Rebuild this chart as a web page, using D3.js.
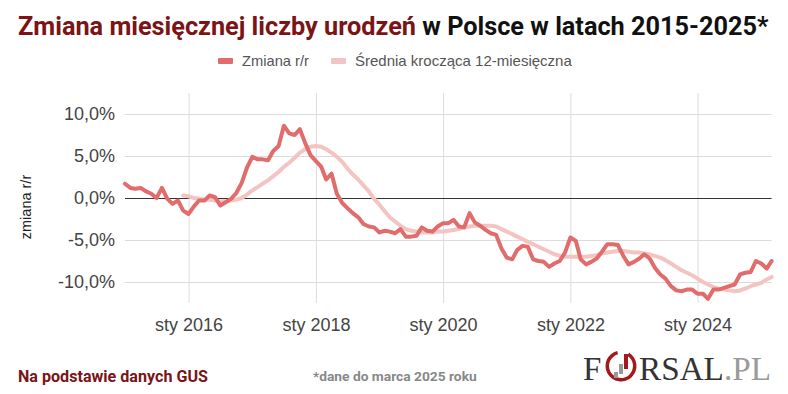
<!DOCTYPE html>
<html>
<head>
<meta charset="utf-8">
<script src="https://cdn.jsdelivr.net/npm/d3@7"></script>
<style>
  html, body { margin: 0; padding: 0; background: #fff; }
  svg { display: block; font-family: Roboto, "Noto Sans", sans-serif; }
</style>
</head>
<body>
<svg id="chart" width="788" height="394"></svg>
<script>
// months Jan 2015 .. Mar 2025
const startMonth = new Date(2015, 0, 1);
const endMonth = new Date(2025, 2, 1);
const months = d3.timeMonth.range(startMonth, d3.timeMonth.offset(endMonth, 1));

// Zmiana r/r (%), monthly from Jan 2015
const zmiana = [
  1.7, 1.2, 1.1, 1.2, 0.8, 0.5, 0.0, 1.2, -0.1, -0.7, -0.3, -1.5,
  -1.9, -1.0, -0.3, -0.3, 0.3, 0.1, -0.9, -0.5, -0.1, 0.6, 1.8, 3.6,
  4.9, 4.6, 4.6, 4.5, 5.6, 6.2, 8.6, 7.7, 7.5, 8.2, 6.5, 5.1,
  4.4, 3.7, 2.2, 2.9, 0.5, -0.6, -1.2, -1.8, -2.3, -3.1, -3.4, -3.5,
  -4.1, -3.9, -4.0, -4.2, -3.7, -4.6, -4.6, -4.5, -3.5, -3.9, -4.0, -3.4,
  -3.0, -3.0, -2.6, -3.4, -3.5, -1.8, -2.9, -3.3, -3.8, -4.2, -4.4, -6.0,
  -7.1, -7.3, -6.2, -5.7, -5.8, -7.3, -7.5, -7.6, -8.2, -7.8, -7.5, -6.5,
  -4.7, -5.1, -7.3, -7.9, -7.6, -7.2, -6.4, -5.5, -5.5, -5.6, -6.9, -7.9,
  -7.6, -7.2, -6.7, -7.2, -8.3, -9.1, -9.6, -10.5, -11.0, -11.1, -10.9, -10.9,
  -11.4, -11.4, -12.0, -10.9, -10.9, -10.7, -10.5, -10.3, -9.1, -8.9, -8.8, -7.5,
  -7.8, -8.4, -7.5
];

// Średnia krocząca 12-miesięczna (%), monthly from Dec 2015
const srednia = [
  0.3,
  0.2, 0.0, -0.1, -0.2, -0.2, -0.3, -0.4, -0.4, -0.3, -0.2, 0.0, 0.4,
  0.9, 1.3, 1.7, 2.1, 2.6, 3.1, 3.7, 4.2, 4.8, 5.4, 5.8, 6.1,
  6.2, 6.1, 5.8, 5.4, 4.9, 4.3, 3.5, 2.8, 2.2, 1.5, 0.8, -0.1,
  -0.8, -1.6, -2.3, -2.8, -3.3, -3.7, -3.9, -4.0, -4.1, -4.1, -4.1, -4.0,
  -4.0, -3.9, -3.8, -3.7, -3.5, -3.4, -3.3, -3.3, -3.3, -3.3, -3.4, -3.7,
  -4.0, -4.3, -4.6, -4.9, -5.2, -5.5, -5.8, -6.1, -6.4, -6.7, -6.9, -7.0,
  -7.0, -7.0, -7.0, -7.0, -6.9, -6.8, -6.6, -6.5, -6.4, -6.3, -6.3, -6.4,
  -6.5, -6.5, -6.6, -6.7, -6.9, -7.1, -7.4, -7.8, -8.2, -8.6, -8.9, -9.2,
  -9.6, -10.0, -10.3, -10.6, -10.8, -10.9, -11.0, -11.1, -11.0, -10.8, -10.5, -10.3,
  -10.1, -9.7, -9.4
];
const sredniaStart = new Date(2015, 11, 1);

const yTicks = [-10, -5, 0, 5, 10];
const xTicks = [2016, 2018, 2020, 2022, 2024].map(y => new Date(y, 0, 1));

const seriesNames = ["Zmiana r/r", "Średnia krocząca 12-miesięczna"];
const titleRed = "Zmiana miesięcznej liczby urodzeń";
const titleBlack = " w Polsce w latach 2015-2025*";
const sourceNote = "Na podstawie danych GUS";
const dateNote = "*dane do marca 2025 roku";

const C = {
  red: "#e06c6c",
  pink: "#f3c4c2",
  dark: "#7a1416",
  grid: "#dcdcdc",
  zero: "#333",
  label: "#444"
};
const sans = "'Liberation Sans', Arial, sans-serif";

const svg = d3.select("#chart");
const plot = { left: 125, right: 771.6, top: 93, bottom: 303 };

const x = d3.scaleTime().domain([startMonth, endMonth]).range([plot.left, plot.right]);
const y = d3.scaleLinear().domain([-12.5, 12.5]).range([plot.bottom, plot.top]);

// squeeze text horizontally to a target width (condensed look)
function fitWidth(sel, w) {
  const node = sel.node();
  const len = node.getComputedTextLength();
  const x0 = +sel.attr("x") || 0, y0 = +sel.attr("y") || 0;
  sel.attr("x", 0).attr("y", 0)
    .attr("transform", `translate(${x0},${y0}) scale(${w / len},1)`);
}

// title
const title = svg.append("text")
  .attr("x", 18).attr("y", 35)
  .style("font-size", "26px").style("font-weight", 700);
title.append("tspan").attr("fill", C.dark).text(titleRed);
title.append("tspan").attr("fill", "#111").text(titleBlack);
fitWidth(title, 751);

// legend
const legend = svg.append("g").attr("transform", "translate(0,61)");
const legendItems = [
  { name: seriesNames[0], color: C.red, x: 218, w: 67 },
  { name: seriesNames[1], color: C.pink, x: 331, w: 217 }
];
legendItems.forEach(d => {
  legend.append("rect").attr("x", d.x).attr("y", -3).attr("width", 15).attr("height", 6)
    .attr("rx", 1).attr("fill", d.color);
  const t = legend.append("text").attr("x", d.x + 24).attr("y", 5)
    .attr("fill", "#555").style("font-family", sans).style("font-size", "14px").text(d.name);
  fitWidth(t, d.w);
});

// grid + axes
const yAxis = d3.axisLeft(y).tickValues(yTicks)
  .tickSize(-(plot.right - plot.left))
  .tickFormat(d => d3.format(".1f")(d).replace(".", ",").replace("\u2212", "-") + "%");
const gy = svg.append("g").attr("transform", `translate(${plot.left},0)`).call(yAxis);
gy.select(".domain").remove();
gy.selectAll(".tick line").attr("stroke", d => d === 0 ? C.zero : C.grid).attr("stroke-width", 1);
gy.selectAll(".tick text").attr("x", -10).attr("fill", C.label)
  .style("font-size", "18px").style("font-family", sans);

const xAxis = d3.axisBottom(x).tickValues(xTicks)
  .tickSize(-(plot.bottom - plot.top))
  .tickFormat(d => "sty " + d.getFullYear());
const gx = svg.append("g").attr("transform", `translate(0,${plot.bottom})`).call(xAxis);
gx.select(".domain").remove();
gx.selectAll(".tick line").attr("stroke", C.grid);
gx.selectAll(".tick text").attr("y", 15).attr("fill", C.label)
  .style("font-size", "18px").style("font-family", sans);

// keep zero line above the vertical grid
gy.selectAll(".tick").filter(d => d === 0).raise();
gy.raise();

// y title
svg.append("text")
  .attr("transform", `translate(31,207) rotate(-90)`)
  .attr("text-anchor", "middle").attr("fill", "#222")
  .style("font-family", sans).style("font-size", "14.5px").text("zmiana r/r");

// lines
const line = d3.line().x(d => x(d.date)).y(d => y(d.value));
const redData = zmiana.map((v, i) => ({ date: months[i], value: v }));
const pinkData = srednia.map((v, i) => ({ date: d3.timeMonth.offset(sredniaStart, i), value: v }));

svg.append("path").datum(pinkData).attr("d", line)
  .attr("fill", "none").attr("stroke", C.pink).attr("stroke-width", 4)
  .attr("stroke-linejoin", "round").attr("stroke-linecap", "round");
svg.append("path").datum(redData).attr("d", line)
  .attr("fill", "none").attr("stroke", C.red).attr("stroke-width", 4)
  .attr("stroke-linejoin", "round").attr("stroke-linecap", "round");

// footer
const src = svg.append("text").attr("x", 18).attr("y", 382)
  .attr("fill", C.dark).style("font-size", "16px").style("font-weight", 700).text(sourceNote);
fitWidth(src, 190);
const note = svg.append("text").attr("x", 313).attr("y", 381)
  .attr("fill", "#888").style("font-size", "13px").style("font-weight", 700).text(dateNote);
fitWidth(note, 164);

// FORSAL.PL logo
const logo = svg.append("g");
const serif = "'Liberation Serif', 'DejaVu Serif', serif";
logo.append("text").attr("x", 583).attr("y", 380).attr("fill", "#333")
  .style("font-family", serif).style("font-size", "33px").text("F");
const ring = d3.arc().innerRadius(12).outerRadius(15.5);
logo.append("path").attr("transform", "translate(621,366)")
  .attr("d", ring({ startAngle: 0.55, endAngle: 2 * Math.PI - 0.25 }))
  .attr("fill", "#a3191c");
[[-7, 3, 6, "#999"], [-2, -1, 10, "#999"], [3, -6, 15, "#a3191c"]].forEach(([bx, by, bh, c]) => {
  logo.append("rect").attr("x", 621 + bx).attr("y", 366 + by + (15 - bh) - 6)
    .attr("width", 4).attr("height", bh).attr("fill", c);
});
const brand = logo.append("text").attr("x", 639).attr("y", 380)
  .style("font-family", serif).style("font-size", "33px");
brand.append("tspan").attr("fill", "#333").text("RSAL");
brand.append("tspan").attr("fill", "#9a9a9a").text(".PL");
fitWidth(brand, 132);
</script>
</body>
</html>
